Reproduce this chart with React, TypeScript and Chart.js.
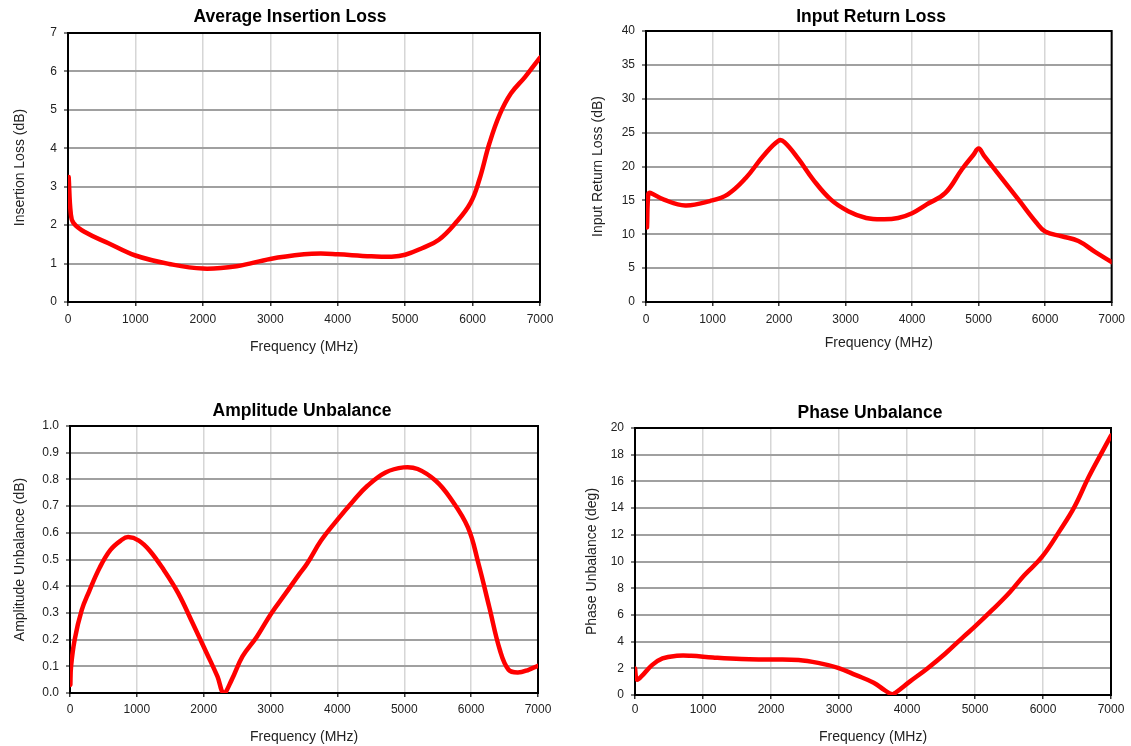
import React, { useEffect, useRef } from "react";
import { Chart, registerables } from "chart.js";

Chart.register(...registerables);

// ---------- data ----------
const xTicks = [0, 1000, 2000, 3000, 4000, 5000, 6000, 7000];

const ilFreq = [10, 40, 80, 250, 600, 1000, 1500, 2000, 2500, 3000, 3500, 3750, 4000, 4500, 4800, 5000, 5250, 5500, 5750, 5970, 6100, 6250, 6400, 6570, 6780, 7000];
const ilValues = [3.25, 2.32, 2.06, 1.82, 1.53, 1.21, 0.99, 0.87, 0.93, 1.12, 1.24, 1.26, 1.24, 1.19, 1.18, 1.23, 1.4, 1.62, 2.06, 2.58, 3.18, 4.13, 4.87, 5.43, 5.86, 6.36];

const rlFreq = [15, 35, 65, 270, 590, 960, 1230, 1500, 1760, 1990, 2080, 2300, 2510, 2780, 3040, 3310, 3580, 3790, 4000, 4220, 4500, 4750, 4920, 5000, 5080, 5280, 5600, 5870, 6000, 6250, 6500, 6750, 7000];
const rlValues = [11.0, 16.0, 16.1, 15.1, 14.25, 14.9, 15.9, 18.3, 21.5, 23.8, 23.6, 21.0, 18.1, 15.1, 13.4, 12.4, 12.2, 12.4, 13.1, 14.4, 16.1, 19.6, 21.7, 22.65, 21.6, 19.1, 15.1, 11.7, 10.4, 9.7, 9.0, 7.4, 5.9];

const auFreq = [5, 16, 70, 175, 285, 445, 605, 765, 870, 1030, 1190, 1405, 1620, 1835, 2045, 2205, 2300, 2420, 2580, 2795, 3010, 3225, 3435, 3545, 3755, 3970, 4240, 4450, 4720, 4990, 5200, 5470, 5680, 5950, 6110, 6270, 6430, 6560, 6700, 6860, 7000];
const auValues = [0.03, 0.1, 0.2, 0.31, 0.38, 0.47, 0.536, 0.572, 0.584, 0.571, 0.534, 0.46, 0.373, 0.261, 0.149, 0.062, 0.0, 0.05, 0.137, 0.211, 0.298, 0.373, 0.447, 0.484, 0.571, 0.64, 0.72, 0.776, 0.826, 0.845, 0.839, 0.795, 0.733, 0.621, 0.484, 0.323, 0.161, 0.087, 0.077, 0.087, 0.102];

const puFreq = [0, 26, 90, 250, 405, 615, 825, 1145, 1565, 1985, 2405, 2725, 2985, 3250, 3510, 3670, 3775, 3830, 4040, 4300, 4565, 4830, 4985, 5250, 5515, 5725, 5985, 6250, 6460, 6670, 6880, 7000];
const puValues = [1.99, 1.17, 1.37, 2.24, 2.74, 2.94, 2.94, 2.81, 2.69, 2.66, 2.62, 2.37, 2.04, 1.49, 0.92, 0.37, 0.07, 0.17, 1.0, 1.99, 3.11, 4.36, 5.06, 6.35, 7.72, 8.97, 10.34, 12.33, 14.07, 16.31, 18.31, 19.43];

// ---------- layout ----------
type PanelCfg = {
  title: string;
  yTitle: string;
  freq: number[];
  values: number[];
  yMax: number;
  yStep: number;
  yDecimals: number;
  cx: number; cy: number; cw: number; ch: number;
  pl: number; pt: number; pr: number; pb: number;
  titleX: number; titleY: number;
  yTitleX: number; xTitleY: number;
  xTickPad: number;
};

const FONT = '"Liberation Sans", Arial, sans-serif';

const panels: PanelCfg[] = [
  {
    title: "Average Insertion Loss", yTitle: "Insertion Loss (dB)",
    freq: ilFreq, values: ilValues, yMax: 7, yStep: 1, yDecimals: 0,
    cx: 0, cy: 0, cw: 565, ch: 370,
    pl: 68, pt: 33, pr: 540, pb: 302,
    titleX: 290, titleY: 17, yTitleX: 20, xTitleY: 347, xTickPad: 6,
  },
  {
    title: "Input Return Loss", yTitle: "Input Return Loss (dB)",
    freq: rlFreq, values: rlValues, yMax: 40, yStep: 5, yDecimals: 0,
    cx: 570, cy: 0, cw: 561, ch: 370,
    pl: 646, pt: 31, pr: 1114, pb: 302,
    titleX: 871, titleY: 17, yTitleX: 598, xTitleY: 343, xTickPad: 6,
  },
  {
    title: "Amplitude Unbalance", yTitle: "Amplitude Unbalance (dB)",
    freq: auFreq, values: auValues, yMax: 1, yStep: 0.1, yDecimals: 1,
    cx: 0, cy: 375, cw: 565, ch: 371,
    pl: 70, pt: 426, pr: 538, pb: 693,
    titleX: 302, titleY: 411, yTitleX: 20, xTitleY: 737, xTickPad: 5,
  },
  {
    title: "Phase Unbalance", yTitle: "Phase Unbalance (deg)",
    freq: puFreq, values: puValues, yMax: 20, yStep: 2, yDecimals: 0,
    cx: 570, cy: 375, cw: 561, ch: 371,
    pl: 635, pt: 428, pr: 1111, pb: 695,
    titleX: 870, titleY: 413, yTitleX: 592, xTitleY: 737, xTickPad: 3,
  },
];

function Panel({ cfg }: { cfg: PanelCfg }) {
  const ref = useRef<HTMLCanvasElement>(null);

  useEffect(() => {
    const c = cfg;
    const canvas = ref.current;
    if (!canvas) return;

    const framePlugin = {
      id: "frame",
      beforeDatasetsDraw(chart: any) {
        const { ctx, chartArea } = chart;
        ctx.save();
        ctx.strokeStyle = "#000";
        ctx.lineWidth = 2;
        ctx.strokeRect(chartArea.left, chartArea.top, chartArea.right - chartArea.left, chartArea.bottom - chartArea.top);
        ctx.restore();
      },
    };
    const titlePlugin = {
      id: "panelTitle",
      afterDraw(chart: any) {
        const ctx = chart.ctx;
        ctx.save();
        ctx.font = `bold 17.5px ${FONT}`;
        ctx.fillStyle = "#000";
        ctx.textAlign = "center";
        ctx.textBaseline = "middle";
        ctx.fillText(c.title, c.titleX - c.cx, c.titleY - c.cy);
        ctx.restore();
      },
    };

    const lhTitle = 14 * 1.2;
    const chart = new Chart(canvas, {
      type: "line",
      data: {
        datasets: [
          {
            data: c.freq.map((f, i) => ({ x: f, y: c.values[i] })),
            borderColor: "#ff0000",
            borderWidth: 4.5,
            pointRadius: 0,
            fill: false,
            tension: 0.4,
            borderJoinStyle: "round",
            borderCapStyle: "round",
          },
        ],
      },
      options: {
        animation: false,
        responsive: false,
        maintainAspectRatio: false,
        layout: {
          padding: { left: 0, top: c.pt - c.cy, right: c.cx + c.cw - c.pr, bottom: 0 },
        },
        plugins: {
          legend: { display: false },
          tooltip: { enabled: false },
          title: { display: false },
        },
        scales: {
          x: {
            type: "linear",
            min: 0,
            max: 7000,
            afterBuildTicks: (s: any) => { s.ticks = xTicks.map((v) => ({ value: v })); },
            afterFit: (s: any) => { s.height = c.cy + c.ch - c.pb; },
            ticks: {
              color: "#222",
              font: { family: FONT, size: 12 },
              padding: c.xTickPad,
              maxRotation: 0,
              callback: (v: any) => String(v),
            },
            grid: { color: "#d6d6d6", lineWidth: 1.5, tickLength: 4, tickColor: "#333", tickWidth: 1.5 },
            border: { display: false },
            title: {
              display: true,
              text: "Frequency (MHz)",
              color: "#222",
              font: { family: FONT, size: 14 },
              padding: { top: 0, bottom: c.cy + c.ch - c.xTitleY - lhTitle / 2 },
            },
          },
          y: {
            type: "linear",
            min: 0,
            max: c.yMax,
            afterFit: (s: any) => { s.width = c.pl - c.cx; },
            ticks: {
              stepSize: c.yStep,
              color: "#222",
              font: { family: FONT, size: 12 },
              padding: 7,
              callback: (v: any) => Number(v).toFixed(c.yDecimals),
            },
            grid: { color: "#a0a0a0", lineWidth: 2, tickLength: 4, tickColor: "#555", tickWidth: 1.5 },
            border: { display: false },
            title: {
              display: true,
              text: c.yTitle,
              color: "#222",
              font: { family: FONT, size: 14 },
              padding: { top: c.yTitleX - c.cx - lhTitle / 2, bottom: 0 },
            },
          },
        },
      },
      plugins: [framePlugin, titlePlugin],
    } as any);

    return () => chart.destroy();
  }, [cfg]);

  return (
    <canvas
      ref={ref}
      width={cfg.cw}
      height={cfg.ch}
      style={{ position: "absolute", left: cfg.cx, top: cfg.cy, width: cfg.cw, height: cfg.ch }}
    />
  );
}

export default function App() {
  return (
    <div style={{ position: "absolute", left: 0, top: 0, width: 1131, height: 746, background: "#fff", overflow: "hidden" }}>
      {panels.map((p) => (
        <Panel key={p.title} cfg={p} />
      ))}
    </div>
  );
}
